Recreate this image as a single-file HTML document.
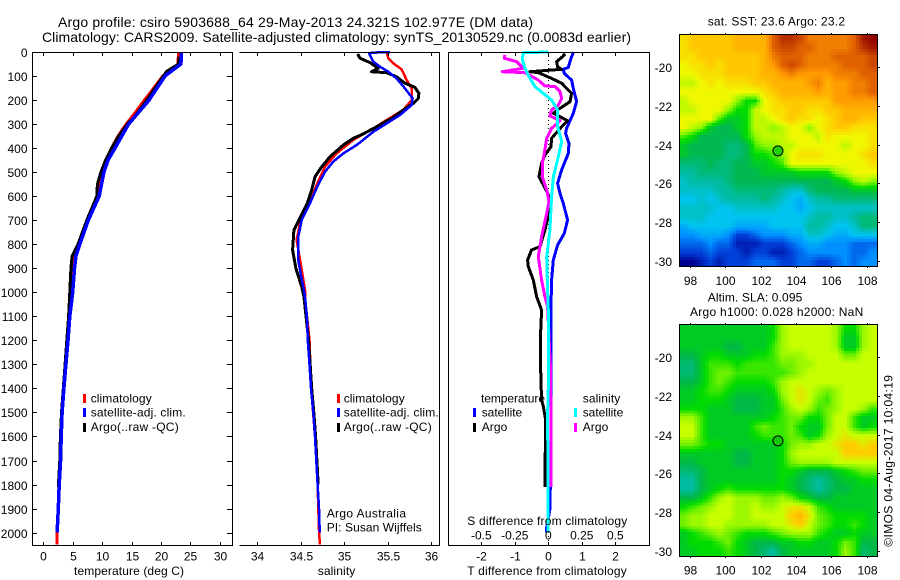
<!DOCTYPE html>
<html lang="en">
<head>
<meta charset="utf-8">
<title>Argo profile csiro 5903688_64</title>
<style>
html,body{margin:0;padding:0;background:#fff;width:900px;height:580px;overflow:hidden}
svg{display:block;font-family:"Liberation Sans",sans-serif;fill:#000}
text{font-size:12px;fill:#000}
.ttl{font-size:14px}
.prof{fill:none;stroke-linejoin:round;shape-rendering:crispEdges}
.ax{stroke:#000;stroke-width:1;shape-rendering:crispEdges;fill:none}
</style>
</head>
<body>
<svg id="chart" xmlns="http://www.w3.org/2000/svg" width="900" height="580" viewBox="0 0 900 580">
  <rect x="0" y="0" width="900" height="580" fill="#fff"/>
  <text class="ttl" x="58" y="27" textLength="475" lengthAdjust="spacing">Argo profile: csiro 5903688_64 29-May-2013 24.321S 102.977E (DM data)</text>
  <text class="ttl" x="42" y="42" textLength="589" lengthAdjust="spacing">Climatology: CARS2009. Satellite-adjusted climatology: synTS_20130529.nc (0.0083d earlier)</text>

  <g id="maps"></g>
  <g id="profiles"></g>
  <g id="axes"></g>

  <text x="74" y="575" textLength="110" lengthAdjust="spacing">temperature (deg C)</text>
  <text x="317.7" y="575" textLength="37.6" lengthAdjust="spacing">salinity</text>
  <text x="467.3" y="575" textLength="159.5" lengthAdjust="spacing">T difference from climatology</text>
  <text x="467.3" y="525" textLength="160" lengthAdjust="spacing">S difference from climatology</text>

  <g>
    <rect x="83" y="394" width="3" height="9" fill="#f00"/>
    <rect x="83" y="408" width="3" height="9" fill="#00f"/>
    <rect x="83" y="423" width="3" height="9" fill="#000"/>
    <text x="90.7" y="402.7" textLength="61" lengthAdjust="spacing">climatology</text>
    <text x="90.7" y="416.7" textLength="95" lengthAdjust="spacing">satellite-adj. clim.</text>
    <text x="90.7" y="431" textLength="88" lengthAdjust="spacing">Argo(..raw -QC)</text>
  </g>
  <g>
    <rect x="337" y="394" width="3" height="9" fill="#f00"/>
    <rect x="337" y="408" width="3" height="9" fill="#00f"/>
    <rect x="337" y="423" width="3" height="9" fill="#000"/>
    <text x="343.7" y="402.7" textLength="61" lengthAdjust="spacing">climatology</text>
    <text x="343.7" y="416.7" textLength="95" lengthAdjust="spacing">satellite-adj. clim.</text>
    <text x="343.7" y="431" textLength="88" lengthAdjust="spacing">Argo(..raw -QC)</text>
    <text x="326.7" y="517.7" textLength="79.3" lengthAdjust="spacing">Argo Australia</text>
    <text x="326.7" y="531.7" textLength="95" lengthAdjust="spacing">PI: Susan Wijffels</text>
  </g>
  <g>
    <text x="481" y="402.7" textLength="64" lengthAdjust="spacing">temperature</text>
    <rect x="473" y="408" width="3" height="9" fill="#00f"/>
    <rect x="473" y="423" width="3" height="9" fill="#000"/>
    <text x="481.7" y="416.7" textLength="40.5" lengthAdjust="spacing">satellite</text>
    <text x="481.7" y="431" textLength="25.6" lengthAdjust="spacing">Argo</text>
    <text x="582.7" y="402.7" textLength="37.6" lengthAdjust="spacing">salinity</text>
    <rect x="574" y="408" width="3" height="9" fill="#0ff"/>
    <rect x="574" y="423" width="3" height="9" fill="#f0f"/>
    <text x="582.7" y="416.7" textLength="40.6" lengthAdjust="spacing">satellite</text>
    <text x="582.7" y="431" textLength="25.6" lengthAdjust="spacing">Argo</text>
  </g>

  <text x="707.7" y="25.7" textLength="137.3" lengthAdjust="spacing">sat. SST: 23.6  Argo: 23.2</text>
  <text x="707.7" y="301.7" textLength="94.6" lengthAdjust="spacing">Altim. SLA: 0.095</text>
  <text x="690" y="316" textLength="173.3" lengthAdjust="spacing">Argo h1000: 0.028 h2000: NaN</text>
  <text transform="translate(892.7 546.7) rotate(-90)" x="0" y="0" textLength="171.7" lengthAdjust="spacing">©IMOS 04-Aug-2017 10:04:19</text>
</svg>
<script>
// ---------- tick labels ----------
const depthTicks = [0,100,200,300,400,500,600,700,800,900,1000,1100,1200,1300,1400,1500,1600,1700,1800,1900,2000];
const tempTicks = [0,5,10,15,20,25,30];
const salTicks = [34,34.5,35,35.5,36];
const salTickLabels = ['34','34.5','35','35.5','36'];
const tDiffTicks = [-2,-1,0,1,2];
const tDiffTickLabels = ['-2','-1','0','1','2'];
const sDiffTicks = [-0.5,-0.25,0,0.25,0.5];
const sDiffTickLabels = ['-0.5','-0.25','0','0.25','0.5'];
const lonTicks = [98,100,102,104,106,108];
const latTicks = [-20,-22,-24,-26,-28,-30];

// ---------- temperature profiles ----------
const tempClimDepth = [0,50,60,100,150,200,250,300,350,400,450,500,600,700,800,850,900,1000,1100,1200,1300,1400,1500,1600,1700,1800,1900,2000,2050];
const tempClimValue = [23,22.9,22.7,20.3,18.8,17.2,15.7,14.1,12.7,11.6,10.7,10.1,9.3,7.4,6,5.3,5,4.9,4.5,4.15,3.8,3.5,3.2,3,2.9,2.7,2.55,2.35,2.35];
const tempSatDepth = [0,50,100,200,300,400,450,500,600,700,800,850,900,1000,1100,1200,1300,1400,1500,1600,1700,1800,1900,2000];
const tempSatValue = [23.5,23.4,20.7,18,14.5,12.2,11,10.3,9.5,7.65,6.2,5.55,5.3,5,4.5,4.2,3.85,3.5,3.2,3.05,2.95,2.7,2.55,2.35];
const tempArgoDepth = [20,50,70,80,100,200,270,300,350,400,450,500,550,600,700,800,850,900,1000,1100,1200,1300,1400,1500,1600,1700,1810];
const tempArgoValue = [23.1,23,21.7,21,20.4,17.6,15.5,14.3,12.8,11.6,10.6,9.8,9.2,9.1,7.4,5.9,4.9,4.7,4.5,4.3,4,3.7,3.4,3.1,2.9,2.8,2.55];

// ---------- salinity profiles ----------
const salClimDepth = [0,26,47,72,116,151,200,241,283,318,366,422,477,547,623,699,782,879,990,1032,1200,1400,1600,1800,2000,2050];
const salClimValue = [35.487,35.506,35.563,35.659,35.716,35.774,35.774,35.678,35.487,35.333,35.103,34.912,34.778,34.69,34.605,34.498,34.452,34.498,34.548,34.552,34.6,34.62,34.663,34.693,34.71,34.72];
const salSatDepth = [0,3,8,40,61,82,110,151,193,221,262,297,332,387,422,456,498,560,630,699,768,866,921,990,1032,1100,1200,1300,1400,1500,1600,1700,1800,1900,1980,2000];
const salSatValue = [35.525,35.314,35.287,35.333,35.41,35.506,35.6,35.697,35.785,35.774,35.64,35.487,35.333,35.142,34.989,34.874,34.778,34.69,34.605,34.51,34.471,34.471,34.498,34.536,34.552,34.57,34.58,34.6,34.617,34.644,34.663,34.678,34.693,34.709,34.716,34.716];
const salArgoDepth = [8,26,44,68,82,86,103,130,147,172,193,214,241,272,311,341,359,387,436,484,519,574,630,692,741,824,900,977,1018,1200,1400,1500,1600,1700,1800];
const salArgoValue = [35.153,35.18,35.295,35.391,35.314,35.487,35.6,35.697,35.812,35.858,35.851,35.793,35.678,35.563,35.372,35.218,35.103,34.989,34.835,34.728,34.663,34.625,34.575,34.49,34.421,34.406,34.444,34.51,34.536,34.59,34.625,34.65,34.67,34.685,34.7];

// ---------- difference profiles ----------
const tDiffSatDepth = [0,40,64,72,89,117,151,207,255,318,338,380,422,491,547,588,630,699,755,803,866,949,1060,1400,1600,1900,1980,2000];
const tDiffSatValue = [0.746,0.647,0.597,0.448,0.478,0.697,0.746,0.846,0.746,0.547,0.517,0.617,0.597,0.398,0.279,0.348,0.448,0.577,0.478,0.279,0.149,0.1,0.08,0.08,0.08,0.05,-0.05,-0.05];
const tDiffArgoDepth = [8,19,40,61,72,82,86,110,130,172,207,239,255,286,311,359,394,429,463,519,553,609,671,741,810,824,866,893,949,1018,1074,1200,1300,1365,1448,1475,1531,1810];
const tDiffArgoValue = [0.498,0.428,0.249,0.279,0.398,-0.547,-0.299,0.1,0.398,0.697,0.647,0.299,0.149,0.577,0.398,0.1,0.08,-0.1,-0.2,-0.279,-0.149,0.05,0.02,-0.1,-0.249,-0.5,-0.617,-0.597,-0.448,-0.348,-0.2,-0.24,-0.23,-0.22,-0.2,-0.15,-0.08,-0.1];
const sDiffArgoDepth = [12,26,40,68,82,86,117,141,144,165,193,221,241,266,286,318,359,422,463,519,574,623,671,768,852,949,1018,1060,1300,1500,1810];
const sDiffArgoValue = [-0.324,-0.329,-0.237,-0.187,-0.344,-0.174,-0.075,-0.025,0.05,0.087,0.1,0.075,0.025,0.012,0.087,0.025,-0.012,-0.03,-0.045,-0.045,-0.012,0.005,-0.012,-0.05,-0.075,-0.05,-0.025,-0.005,0.015,0.02,0.02];
const sDiffSatDepth = [0,3,33,68,96,144,172,200,241,311,373,436,519,602,741,852,990,1074,1400,1500,1800,2000];
const sDiffSatValue = [0,-0.187,-0.194,-0.174,-0.15,-0.1,-0.038,0.025,0.07,0.07,0.1,0.075,0.038,0.025,0.012,-0.012,-0.005,0,0,-0.005,-0.002,-0.002];

// ---------- map fields (colour levels, north to south, west to east) ----------
const sstLevels = [
[8.5,9,9,9,9,9,9.5,9.5,9.5,9.5,11,12,12,11.5,10.5,10.5,10.5,10.5,10.5,11,12.5,13],
[8.5,9,9,9,9,9,9.5,9.5,9.5,9.5,11,11.5,11.5,11,11,10.5,10.5,10.5,10.5,11,12,12.5],
[8.5,8.5,9,9,9,9,9,9,9,9.5,10.5,11,11,11,10.5,10.5,10.5,11,11,11,11,11.5],
[8,8.5,8.5,9,8.5,9,9,9,9,9.5,10,11,11.5,11,10.5,10.5,10.5,10.5,11,11,11,11.5],
[8,8,8.5,8.5,8.5,9,9,9,9,9.5,9.5,10,10.5,10,10,10,10,10.5,10.5,10.5,11,11],
[7.5,7.5,8,8.5,8,8.5,8.5,8.5,9,9,9.5,9.5,9.5,9.5,10,10.5,9.5,10,10,10.5,10.5,11],
[8,8,8,8,8,8,8,8,8,8.5,9,9.5,9.5,9.5,9.5,10,9.5,10,10,10.5,10.5,11],
[7.5,8,8,8,8,8,7,6,6,8,8.5,9,9,9,9,9,9,10,10,10,10,10],
[7.5,7.5,8,8,8,7,6,6,7.5,8,8.5,8.5,9,9,8.5,8.5,9,9,9.5,9.5,9.5,9.5],
[8,8,8,8,6.5,5.5,5.5,6,7.5,7.5,8,8.5,9,8.5,8.5,8,8.5,9,9.5,9.5,9,9],
[8,7.5,7,5.5,5,5,5.5,6,7.5,7.5,7,7.5,8,8,7,8,8.5,9,9,8.5,8.5,8.5],
[6.5,6,5,5,5,5,5,6,7,7.5,7.5,7.5,8,8,8,7.5,8.5,8,8,8,8,8.5],
[5.5,5,5,5,5,4.5,4.5,5,6.5,7,7,7.5,7.5,8,8,8,8,8,7.5,8,8,8.5],
[5.5,5,5,5,5,4.5,4.5,5,6,6,6.5,7,8,8.5,8.5,8.5,8,8,8,8,8.5,9],
[4.5,4.5,4.5,5,4.5,4.5,5,5,5.5,5.5,6,6.5,8,8,8,8,8,8,8,8,8,8.5],
[4,4,4.5,4.5,4.5,4.5,5,5,5,5.5,5.5,5.5,5.5,6,6,6,6,7,7.5,8,8,8],
[3.5,4,4,4,4,4.5,5,5,5,5,5,5,5,5,5,5,5,5.5,6,7,7.5,7],
[3.5,3.5,3.5,3.5,4,4,4.5,4.5,4.5,4.5,4.5,4,3.5,3.5,4.5,5,5,5,5,5.5,5.5,5.5],
[3,3,3.5,3,3.5,4,4,4,4,4.5,4,3.5,3,2.5,3.5,4,4,4.5,4.5,4.5,4.5,4.5],
[3.5,3.5,3.5,3.5,3,3,3.5,3.5,3.5,3.5,3.5,3,3,2.5,3,3.5,3.5,3.5,3.5,3.5,3.5,3.5],
[3.5,3.5,3.5,3,3,3,3,3,3,3,3,3,3,3,3.5,4,4,3.5,3.5,4,4.5,4.5],
[2.5,3,3,3,3,3,2.5,2.5,2.5,2.5,3,3,3,3,4,4,3.5,3,3,3.5,4.5,4.5],
[2,2,2.5,2.5,2.5,2,1,1,1.5,2,2,2,2.5,2.5,3.5,3.5,3,2.5,2.5,3,3,3],
[1.5,1.5,1.5,2,1.5,1.5,0.5,0.5,0.5,1,1,1,1.5,2,2.5,2.5,2,2,2,1.5,1.5,1.5],
[1,1,1,1.5,1,1,1,0.5,1,1,0.5,0.5,1,1.5,2,2,2,2,2,1.5,1.5,2],
[0,0,0.5,1,0.5,1,1,1,1.5,1.5,1.5,1,1,1.5,1.5,1,1,1.5,2,1.5,2,2]
];
const slaLevels = [
[5.5,5.5,5.5,5.5,5.5,5.5,5.5,5.5,5.5,5.5,6,7.5,8,8,8,8,8,7.5,6,6,7.5,8],
[5.5,5.5,5.5,5.5,5.5,5.5,5.5,5.5,5.5,5.5,6,7.5,8,8,8,8,8,7.5,5.5,5.5,7.5,8],
[5.5,5.5,5.5,5.5,5.5,5,5,5.5,5.5,5.5,6.5,7.5,8,8,8,8,8,7.5,5.5,5.5,7.5,8],
[5,5,5.5,6,6,5.5,5.5,5.5,6,6,6.5,7.5,7.5,7.5,8,8,8,8,7,7,8,8],
[4.5,4.5,5.5,6.5,6.5,6.5,6,6.5,6.5,6.5,6.5,7,7,7.5,7.5,8,8,8,8,8,8,8],
[4.5,4.5,5.5,6.5,7,7,6.5,6.5,6.5,6.5,6.5,6.5,7,7.5,8,8,8,8,8,8,8,8],
[5,5,5.5,6.5,7,6.5,6,6,6,6,6.5,7.5,8,8,8,8,8,8,8,8,8,8],
[5.5,5.5,6,6.5,6.5,6,5.5,5.5,5.5,5.5,6,7.5,8,8.5,8,7.5,7,7.5,8,8,8,8],
[5.5,5.5,6,6,6,5.5,5,5,5,5.5,5.5,7,8,8.5,8,7,6.5,7.5,8,8,8,8],
[6,6,6,5.5,5.5,5.5,5,5,5,5.5,5.5,6.5,7.5,8,7.5,6.5,7,7.5,8,8,7.5,6.5],
[7.5,7.5,6.5,5.5,5.5,5.5,5.5,5.5,5.5,5.5,6,6.5,7,7,6,6,7,8,8,6.5,5.5,5.5],
[8,8,6.5,5.5,5.5,5.5,5.5,5.5,6.5,7,6.5,6.5,7,6,5.5,5.5,7,8,8,6.5,5.5,6],
[8,8,6.5,5.5,5.5,5.5,5.5,5.5,6,6.5,6.5,6.5,7,6.5,5.5,6,7.5,8,8.5,8,8,8],
[7,7,6.5,6,6,5.5,5.5,5.5,5.5,5.5,5.5,6,7,7.5,7.5,8,8,8.5,9,9,8.5,9],
[5.5,5.5,5.5,5.5,5.5,5.5,5,5,5.5,5.5,5.5,6,7.5,8,8,8,8,8,9,9,9,9],
[5,5,5.5,5.5,5.5,5.5,5,5,5.5,5.5,5.5,6,7,7.5,7.5,7.5,7.5,8,8,8,8,8],
[4.5,4.5,5,5.5,5.5,5.5,5.5,5.5,5.5,5.5,5.5,6,6,5.5,5,5,5,5.5,6,6.5,7,7],
[4,4,5,5.5,5.5,5.5,5.5,5.5,5.5,5.5,5.5,6,5.5,5,4.5,4,4.5,5,5.5,5.5,6,6],
[4,4,5,5.5,6,6.5,6,6,6,6,6,6,5.5,5,4.5,4,4.5,5,5,5.5,5.5,5.5],
[5,5,5.5,6.5,7.5,8,7.5,7.5,7.5,7,7,7.5,7,6,5.5,5,5,5.5,5.5,5.5,5.5,5.5],
[6,6.5,7,7.5,8,8,7.5,7.5,8,7.5,7.5,8,8.5,8.5,8,6.5,6,5.5,5.5,5.5,5.5,5.5],
[7,7.5,7.5,8,8,8,7.5,7.5,8,8,8,8,9,9.5,8.5,7,6.5,6,6,6,6,5.5],
[7,7.5,7.5,8,8,7.5,7.5,7.5,7.5,7.5,8,8,8.5,9,8,7,6.5,6,6,6.5,6,5.5],
[5.5,6,6.5,7,7.5,7,6.5,6,6,6,6.5,7,7.5,7.5,7.5,6.5,6,5.5,5.5,6,5.5,5.5],
[5.5,6,6,6,6.5,7,6,5.5,5,5,5,5.5,5.5,6,6,5.5,5.5,6,7,6.5,5,5],
[5.5,5.5,6,6,6,6.5,6,5.5,5,4.5,4,5,5.5,5.5,5.5,5.5,5.5,6,7.5,6.5,4.5,5]
];
const floatLon = [102.977];
const floatLat = [-24.321];

// ---------- colour ramps ----------
const sstRamp = ['#000090','#0040d8','#0090ff','#00c4f0','#00bca0','#00b850','#00dc00','#90f800','#f0f800','#ffc800','#ff9c00','#e06000','#b83000','#900000'];
const slaRamp = ['#000090','#0040d8','#0090ff','#00c4f0','#00bca0','#00b848','#00dc00','#70f000','#c8ff00','#ffcc00','#ffa000','#e06000','#b83000','#900000'];

const NS = 'http://www.w3.org/2000/svg';
const depthY = d => 52 + d * 0.2403;
const tempX = t => 43.3 + t * 5.88;
const salX = s => 257.3 + (s - 34) * 87;
const tDiffX = t => 548.3 + t * 33.5;
const sDiffX = s => 548.3 + s * 134;
const lonX = l => 690 + (l - 98) * 17.67;
const latY = (l, base) => base + (-20 - l) * 19.34;

function make(tag, attrs, parent) {
  const el = document.createElementNS(NS, tag);
  for (const k in attrs) el.setAttribute(k, attrs[k]);
  parent.appendChild(el);
  return el;
}
function hex(s) { return [1,3,5].map(i => parseInt(s.substr(i,2),16)); }
function levelColour(v, ramp) {
  const lo = Math.max(0, Math.min(ramp.length - 2, Math.floor(v)));
  const f = Math.max(0, Math.min(1, v - lo));
  const a = hex(ramp[lo]), b = hex(ramp[lo + 1]);
  return 'rgb(' + a.map((c, i) => Math.round(c + (b[i] - c) * f)).join(',') + ')';
}

const profiles = document.getElementById('profiles');
const axes = document.getElementById('axes');
const maps = document.getElementById('maps');

function profileLine(name, depths, values, xFn, colour, width) {
  const pts = depths.map((d, i) => xFn(values[i]).toFixed(1) + ',' + depthY(d).toFixed(1)).join(' ');
  const el = make('polyline', {points: pts, stroke: colour, 'stroke-width': width, class: 'prof'}, profiles);
  
  
}

function tickLine(x1, y1, x2, y2) {
  const el = make('line', {x1: x1, y1: y1, x2: x2, y2: y2, class: 'ax'}, axes);
  
  
}
function axisLabel(str, x, y, anchor) {
  const el = make('text', {x: x, y: y, 'text-anchor': anchor}, axes);
  el.textContent = str;
  
  
}
function axisBox(name, d) {
  const el = make('path', {d: d, class: 'ax'}, axes);
  
  
}

// --- zero line of the difference panel ---
const zeroLine = make('line', {x1: tDiffX(0), y1: depthY(0), x2: tDiffX(0), y2: depthY(2050), stroke: '#000', 'stroke-width': 1, 'stroke-dasharray': '1 3', 'shape-rendering': 'crispEdges'}, profiles);



// --- series ---
profileLine('temperature-climatology-line', tempClimDepth, tempClimValue, tempX, '#f00', 3);
profileLine('temperature-argo-line', tempArgoDepth, tempArgoValue, tempX, '#000', 3);
profileLine('temperature-satellite-line', tempSatDepth, tempSatValue, tempX, '#00f', 3.5);
profileLine('salinity-climatology-line', salClimDepth, salClimValue, salX, '#f00', 2.5);
profileLine('salinity-argo-line', salArgoDepth, salArgoValue, salX, '#000', 3);
profileLine('salinity-satellite-line', salSatDepth, salSatValue, salX, '#00f', 2.5);
profileLine('t-difference-satellite-line', tDiffSatDepth, tDiffSatValue, tDiffX, '#00f', 3);
profileLine('t-difference-argo-line', tDiffArgoDepth, tDiffArgoValue, tDiffX, '#000', 3);
profileLine('s-difference-argo-line', sDiffArgoDepth, sDiffArgoValue, sDiffX, '#f0f', 3);
profileLine('s-difference-satellite-line', sDiffSatDepth, sDiffSatValue, sDiffX, '#0ff', 3);

// --- panel frames ---
axisBox('temperature-panel-frame', 'M32.5 52.5H232.5V545.5H32.5Z');
axisBox('salinity-panel-frame', 'M239.5 52.5H439.5V545.5H239.5');
axisBox('difference-panel-frame', 'M448.5 545.5V52.5H649.5V545.5H448.5');

depthTicks.forEach(d => {
  const y = Math.round(depthY(d)) + 0.5;
  tickLine(32, y, 37, y);
  tickLine(227, y, 232, y);
  axisLabel(String(d), 27.5, y + 4.5, 'end');
});
tempTicks.forEach(t => {
  const x = Math.round(tempX(t)) + 0.5;
  tickLine(x, 52, x, 56);
  tickLine(x, 542, x, 545);
  axisLabel(String(t), x, 560.3, 'middle');
});
salTicks.forEach((s, i) => {
  const x = Math.round(salX(s)) + 0.5;
  tickLine(x, 52, x, 56);
  tickLine(x, 542, x, 545);
  axisLabel(salTickLabels[i], x, 560.3, 'middle');
});
tDiffTicks.forEach((t, i) => {
  const x = Math.round(tDiffX(t)) + 0.5;
  tickLine(x, 52, x, 56);
  tickLine(x, 542, x, 545);
  axisLabel(tDiffTickLabels[i], x, 560.3, 'middle');
});
sDiffTicks.forEach((s, i) => {
  axisLabel(sDiffTickLabels[i], sDiffX(s), 539.3, 'middle');
});

// --- maps: each field value is shaded across a finer sub-grid so the field reads smoothly ---
const SUB = 3;
function sample(levels, fr, fc) {
  const rows = levels.length, cols = levels[0].length;
  const r = Math.max(0, Math.min(rows - 1, fr)), c = Math.max(0, Math.min(cols - 1, fc));
  const r0 = Math.floor(r), c0 = Math.floor(c);
  const r1 = Math.min(rows - 1, r0 + 1), c1 = Math.min(cols - 1, c0 + 1);
  const a = r - r0, b = c - c0;
  return (levels[r0][c0] * (1 - b) + levels[r0][c1] * b) * (1 - a) + (levels[r1][c0] * (1 - b) + levels[r1][c1] * b) * a;
}
function drawMap(name, levels, ramp, top, tickBase, labelY, dotColour) {
  const g = make('g', {}, maps);
  
  
  const left = 679, rows = levels.length, cols = levels[0].length;
  const cw = 198 / cols / SUB, ch = 232 / rows / SUB;
  for (let r = 0; r < rows * SUB; r++) {
    for (let c = 0; c < cols * SUB; c++) {
      const v = sample(levels, (r + 0.5) / SUB - 0.5, (c + 0.5) / SUB - 0.5);
      const cell = make('rect', {
        x: (left + c * cw).toFixed(2), y: (top + r * ch).toFixed(2),
        width: (cw + 0.5).toFixed(2), height: (ch + 0.5).toFixed(2),
        fill: levelColour(v, ramp), 'shape-rendering': 'crispEdges'
      }, g);
      
      
    }
  }
  axisBox(name + '-frame', 'M679.5 ' + (top + 0.5) + 'H877.5V' + (top + 232.5) + 'H679.5Z');
  lonTicks.forEach(l => {
    const x = Math.round(lonX(l)) + 0.5;
    tickLine(x, top - 1, x, top + 1);
    tickLine(x, top + 232, x, top + 234);
    axisLabel(String(l), x, labelY, 'middle');
  });
  latTicks.forEach(l => {
    const y = Math.round(latY(l, tickBase)) + 0.5;
    tickLine(877, y, 880, y);
    axisLabel(String(l), 672, y + 4.5, 'end');
  });
  floatLon.forEach((lon, i) => {
    const dot = make('circle', {cx: lonX(lon), cy: latY(floatLat[i], tickBase), r: 5, fill: dotColour, stroke: '#000', 'stroke-width': 1}, axes);
    
    
  });
}
drawMap('sst-map', sstLevels, sstRamp, 34, 67.3, 285, '#20d000');
drawMap('sla-map', slaLevels, slaRamp, 324, 357.3, 574.3, '#10c800');
</script>
</body>
</html>
